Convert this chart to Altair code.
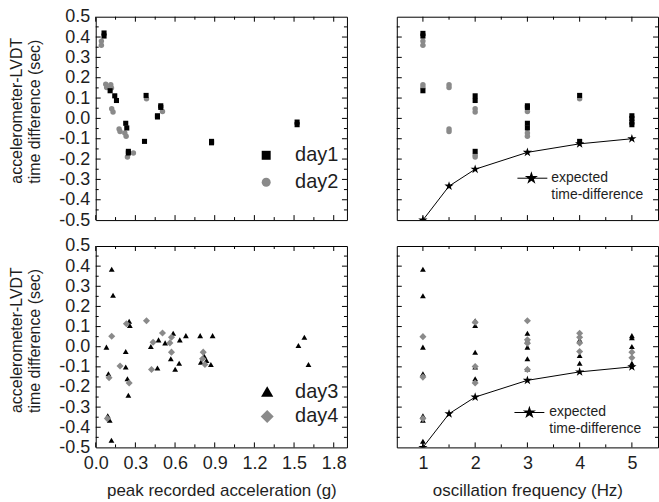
import altair as alt
import pandas as pd

# ---------------- data ----------------
# top-left: time difference vs peak acceleration, day1 / day2
tl_day1_acc = [0.063, 0.063, 0.109, 0.144, 0.157, 0.227, 0.235, 0.247, 0.247, 0.369,
               0.381, 0.467, 0.467, 0.492, 0.492, 0.876, 0.876, 1.523, 1.523]
tl_day1_dt = [0.42, 0.405, 0.136, 0.111, 0.088, -0.024, -0.047, -0.162, -0.17, -0.113,
              0.113, 0.007, 0.013, 0.062, 0.054, -0.12, -0.113, -0.018, -0.031]
tl_day2_acc = [0.043, 0.043, 0.076, 0.083, 0.114, 0.119, 0.121, 0.131, 0.177, 0.184,
               0.22, 0.23, 0.24, 0.285, 0.384, 0.505]
tl_day2_dt = [0.38, 0.36, 0.168, 0.152, 0.165, 0.149, 0.047, 0.031, -0.052, -0.064,
              -0.072, -0.088, -0.19, -0.17, 0.096, 0.034]

# top-right: time difference vs oscillation frequency, day1 / day2
tr_day1_freq = [1, 1, 1, 2, 2, 2, 3, 3, 3, 3, 4, 4, 5, 5, 5, 5]
tr_day1_dt = [0.418, 0.405, 0.136, 0.111, 0.088, -0.162, 0.062, 0.054, -0.024, -0.047,
              0.113, -0.113, 0.013, 0.0, -0.018, -0.031]
tr_day2_freq = [1, 1, 1, 1, 1.5, 1.5, 1.5, 1.5, 2, 2, 2, 2, 3, 3, 3, 4]
tr_day2_dt = [0.38, 0.36, 0.165, 0.152, 0.165, 0.152, -0.052, -0.064, 0.047, 0.031,
              -0.18, -0.19, 0.034, -0.072, -0.088, 0.096]

# bottom-left: day3 / day4 vs peak acceleration
bl_day3_acc = [0.081, 0.096, 0.091, 0.106, 0.121, 0.131, 0.119, 0.227, 0.227, 0.24,
               0.247, 0.253, 0.258, 0.417, 0.475, 0.467, 0.525, 0.568, 0.586, 0.601,
               0.636, 0.631, 0.682, 0.79, 0.795, 0.821, 0.838, 0.884, 0.871, 1.533,
               1.578, 1.609]
bl_day3_dt = [-0.002, -0.134, -0.343, -0.365, 0.385, 0.256, -0.464, -0.024, -0.101, -0.159,
              -0.241, 0.126, 0.105, 0.001, 0.034, -0.106, 0.019, -0.06, 0.067, -0.112,
              0.034, -0.082, 0.055, 0.055, -0.077, -0.047, -0.068, 0.055, -0.088, 0.006,
              0.047, -0.088]
bl_day4_acc = [0.121, 0.101, 0.088, 0.184, 0.232, 0.253, 0.384, 0.434, 0.422, 0.505,
               0.561, 0.573, 0.573, 0.813, 0.808, 0.826]
bl_day4_dt = [0.052, -0.154, -0.357, -0.096, 0.114, -0.18, 0.129, 0.022, -0.113, 0.068,
              0.019, 0.047, -0.027, -0.027, -0.06, -0.088]

# bottom-right: day3 / day4 vs frequency
br_day3_freq = [1, 1, 1, 1, 1, 1, 1, 2, 2, 2, 2, 2, 3, 3, 3, 3, 3, 4, 4, 4, 5, 5, 5, 5]
br_day3_dt = [0.385, 0.253, -0.002, -0.134, -0.343, -0.365, -0.469, 0.129, 0.105, -0.027,
              -0.101, -0.159, 0.067, 0.03, -0.002, -0.06, -0.11, 0.034, -0.044, -0.082,
              0.055, 0.044, 0.001, -0.082]
br_day4_freq = [1, 1, 1, 2, 2, 2, 3, 3, 3, 3, 4, 4, 4, 4, 5, 5]
br_day4_dt = [0.05, -0.151, -0.357, 0.121, -0.098, -0.18, 0.129, 0.034, 0.017, -0.113,
              0.067, 0.047, 0.019, -0.024, -0.027, -0.055]

# expected time difference
exp_freq = [1, 1.5, 2, 3, 4, 5]
exp_dt = [-0.5, -0.333, -0.25, -0.167, -0.125, -0.1]

# axes
acc_major = [0.0, 0.3, 0.6, 0.9, 1.2, 1.5, 1.8]
acc_minor = [0.15, 0.45, 0.75, 1.05, 1.35, 1.65]
freq_major = [1, 2, 3, 4, 5]
freq_minor = [1.5, 2.5, 3.5, 4.5]
y_labels = [-0.5, -0.4, -0.3, -0.2, -0.1, 0.0, 0.1, 0.2, 0.3, 0.4, 0.5]
y_major = [-0.4, -0.3, -0.2, -0.1, 0.0, 0.1, 0.2, 0.3, 0.4]
y_minor = [-0.45, -0.35, -0.25, -0.15, -0.05, 0.05, 0.15, 0.25, 0.35, 0.45]

legend_top = ["day1", "day2"]
legend_bottom = ["day3", "day4"]
legend_expected = ["expected", "time-difference"]

x_title_left = "peak recorded acceleration (g)"
x_title_right = "oscillation frequency (Hz)"
y_title = ["accelerometer-LVDT", "time difference (sec)"]

# ---------------- styling ----------------
FONT = "Liberation Sans"
BLACK = "#000000"
GRAY = "#8a8a8a"
TXT = "#1e1e1e"
STAR = ("M0,-1L0.2245,-0.309L0.951,-0.309L0.363,0.118L0.588,0.809L0,0.382"
        "L-0.588,0.809L-0.363,0.118L-0.951,-0.309L-0.2245,-0.309Z")

W_L, W_R = 252, 262
H_T, H_B = 204, 202
MAJ, MIN = 5, 3

LABEL_EXPR = "replace(format(datum.value, '.1f'), '\u2212', '-')"


def one():
    return pd.DataFrame({"k": [0]})


def panel(width, height, xdomain, xmaj, xmin, x_axis, y_axis, series, legend, expected):
    xs = alt.Scale(domain=xdomain, nice=False, zero=False)
    ys = alt.Scale(domain=[-0.5, 0.5], nice=False, zero=False)

    def X():
        return alt.X("x:Q", scale=xs, axis=x_axis)

    def Y():
        return alt.Y("y:Q", scale=ys, axis=y_axis)

    layers = []
    for xv, yv, shape, color, size in series:
        df = pd.DataFrame({"x": xv, "y": yv})
        layers.append(
            alt.Chart(df).mark_point(shape=shape, filled=True, color=color, size=size,
                                     opacity=1, strokeWidth=0)
            .encode(x=X(), y=Y())
        )
    if expected:
        edf = pd.DataFrame({"x": exp_freq, "y": exp_dt})
        layers.append(alt.Chart(edf).mark_line(color=BLACK, strokeWidth=1, clip=True)
                      .encode(x=X(), y=Y()))
        layers.append(alt.Chart(edf).mark_point(shape=STAR, filled=True, color=BLACK,
                                                size=95, opacity=1, clip=True, strokeWidth=0)
                      .encode(x=X(), y=Y()))

    # inward ticks on all four sides
    for vals, ln in ((xmaj, MAJ), (xmin, MIN)):
        d = pd.DataFrame({"x": vals})
        layers.append(alt.Chart(d).mark_rule(color=BLACK, strokeWidth=1)
                      .encode(x=X(), y=alt.value(height), y2=alt.value(height - ln)))
        layers.append(alt.Chart(d).mark_rule(color=BLACK, strokeWidth=1)
                      .encode(x=X(), y=alt.value(0), y2=alt.value(ln)))
    for vals, ln in ((y_major, MAJ), (y_minor, MIN)):
        d = pd.DataFrame({"y": vals})
        layers.append(alt.Chart(d).mark_rule(color=BLACK, strokeWidth=1)
                      .encode(y=Y(), x=alt.value(0), x2=alt.value(ln)))
        layers.append(alt.Chart(d).mark_rule(color=BLACK, strokeWidth=1)
                      .encode(y=Y(), x=alt.value(width), x2=alt.value(width - ln)))

    layers.extend(legend)
    return alt.layer(*layers).properties(width=width, height=height)


def sym_legend(labels, shapes, colors, sizes, px, tx, ys):
    out = []
    for lab, sh, co, sz, yy in zip(labels, shapes, colors, sizes, ys):
        out.append(alt.Chart(one()).mark_point(shape=sh, filled=True, color=co, size=sz,
                                               opacity=1, strokeWidth=0)
                   .encode(x=alt.value(px), y=alt.value(yy)))
        out.append(alt.Chart(one()).mark_text(text=lab, align="left", baseline="middle",
                                              fontSize=20, color=TXT, font=FONT)
                   .encode(x=alt.value(tx), y=alt.value(yy)))
    return out


def exp_legend(x0, x1, sx, tx, yy):
    return [
        alt.Chart(one()).mark_rule(color=BLACK, strokeWidth=1)
        .encode(x=alt.value(x0), x2=alt.value(x1), y=alt.value(yy)),
        alt.Chart(one()).mark_point(shape=STAR, filled=True, color=BLACK, size=190,
                                    opacity=1, strokeWidth=0)
        .encode(x=alt.value(sx), y=alt.value(yy)),
        alt.Chart(one()).mark_text(text=legend_expected, align="left", baseline="middle",
                                   fontSize=14, lineHeight=17, color=TXT, font=FONT)
        .encode(x=alt.value(tx), y=alt.value(yy)),
    ]


def x_axis(vals, title, expr):
    return alt.Axis(values=vals, labelExpr=expr, ticks=False, domain=False, grid=False,
                    labelFontSize=18, labelPadding=7, labelFlush=False, labelOverlap=False,
                    title=title, titleFontSize=17, titleFontWeight="normal",
                    titleBaseline="middle", titleY=43)


Y_AXIS = alt.Axis(values=y_labels, labelExpr=LABEL_EXPR, ticks=False, domain=False,
                  grid=False, labelFontSize=18, labelPadding=6, labelFlush=False,
                  labelOverlap=False, title=y_title, titleFontSize=16,
                  titleFontWeight="normal", titleAngle=270, titleAlign="left",
                  titleBaseline="top", titleX=-87, titleY=167, titleLineHeight=18)

tl = panel(W_L, H_T, [0, 1.9], acc_major, acc_minor, None, Y_AXIS,
           [(tl_day2_acc, tl_day2_dt, "circle", GRAY, 30),
            (tl_day1_acc, tl_day1_dt, "square", BLACK, 26)],
           sym_legend(legend_top, ["square", "circle"], [BLACK, GRAY], [81, 81],
                      171, 200, [139, 166]),
           False)

tr = panel(W_R, H_T, [0.5, 5.5], freq_major, freq_minor, None, None,
           [(tr_day2_freq, tr_day2_dt, "circle", GRAY, 30),
            (tr_day1_freq, tr_day1_dt, "square", BLACK, 26)],
           exp_legend(121, 151, 135, 155, 162),
           True)

bl = panel(W_L, H_B, [0, 1.9], acc_major, acc_minor,
           x_axis(acc_major, x_title_left, LABEL_EXPR), Y_AXIS,
           [(bl_day3_acc, bl_day3_dt, "triangle-up", BLACK, 34),
            (bl_day4_acc, bl_day4_dt, "diamond", GRAY, 50)],
           sym_legend(legend_bottom, ["triangle-up", "diamond"], [BLACK, GRAY], [150, 170],
                      172, 200, [146, 171]),
           False)

br = panel(W_R, H_B, [0.5, 5.5], freq_major, freq_minor,
           x_axis(freq_major, x_title_right, "format(datum.value, 'd')"), None,
           [(br_day3_freq, br_day3_dt, "triangle-up", BLACK, 34),
            (br_day4_freq, br_day4_dt, "diamond", GRAY, 50)],
           exp_legend(118, 148, 133, 153, 167),
           True)

chart = (
    alt.concat(tl, tr, bl, br, columns=2, spacing={"row": 26, "column": 50}, bounds="flush")
    .properties(padding={"left": 8, "top": 6, "right": 0, "bottom": 0}, background="white")
    .configure(font=FONT)
    .configure_view(stroke=BLACK, strokeWidth=1)
    .configure_axis(labelColor=TXT, titleColor=TXT, labelFont=FONT, titleFont=FONT)
)

chart.save("out.html", embed_options={"renderer": "svg", "actions": False})
